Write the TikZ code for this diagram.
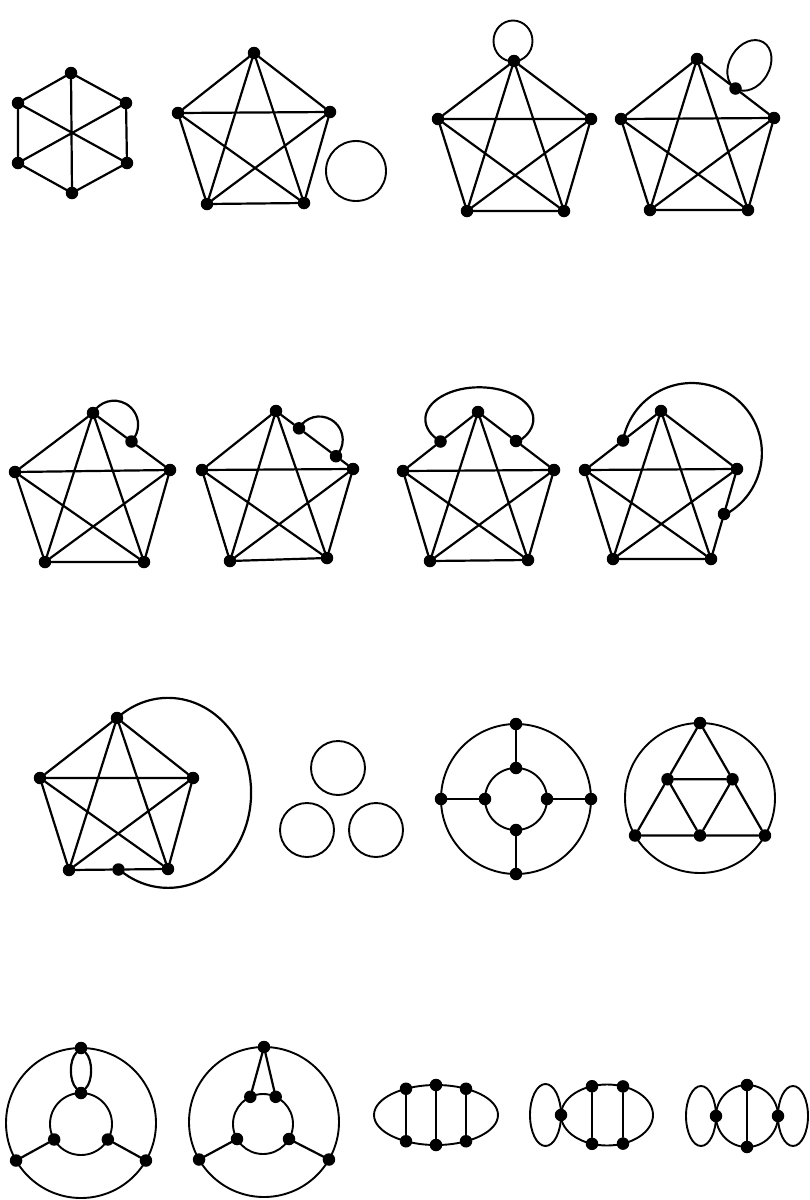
\documentclass[tikz,border=0pt]{standalone}
\begin{document}
\begin{tikzpicture}[x=1pt,y=1pt,
  dot/.style={circle,fill=black,inner sep=0pt,minimum size=12.5pt},
  edge/.style={line width=2.2pt,line cap=round,line join=round},
  ring/.style={line width=1.9pt}]
\useasboundingbox (0,0) rectangle (810,-1200);

% ---------- Graph 1: hexagon (K3,3)
\node[dot] (h1) at (71,-73) {};
\node[dot] (h2) at (18,-103) {};
\node[dot] (h3) at (126,-103) {};
\node[dot] (h4) at (18,-163) {};
\node[dot] (h5) at (127,-163) {};
\node[dot] (h6) at (72,-193) {};
\draw[edge] (h1)--(h2) (h1)--(h3) (h2)--(h4) (h3)--(h5) (h4)--(h6) (h5)--(h6)
  (h1)--(h6) (h2)--(h5) (h3)--(h4);

% ---------- Graph 2: K5 + circle
\node[dot] (a-t) at (254,-53) {};
\node[dot] (a-l) at (178,-113) {};
\node[dot] (a-r) at (330,-112) {};
\node[dot] (a-bl) at (207,-204) {};
\node[dot] (a-br) at (304,-203) {};
\draw[edge] (a-t)--(a-l) (a-t)--(a-r) (a-t)--(a-bl) (a-t)--(a-br) (a-l)--(a-r)
  (a-l)--(a-bl) (a-l)--(a-br) (a-r)--(a-bl) (a-r)--(a-br) (a-bl)--(a-br);
\draw[ring] (356,-171) circle[radius=30];

% ---------- Graph 3: K5 + loop at top
\node[dot] (b-t) at (514,-61) {};
\node[dot] (b-l) at (438,-119) {};
\node[dot] (b-r) at (591,-119) {};
\node[dot] (b-bl) at (467,-211) {};
\node[dot] (b-br) at (564,-211) {};
\draw[edge] (b-t)--(b-l) (b-t)--(b-r) (b-t)--(b-bl) (b-t)--(b-br) (b-l)--(b-r)
  (b-l)--(b-bl) (b-l)--(b-br) (b-r)--(b-bl) (b-r)--(b-br) (b-bl)--(b-br);
\draw[ring] (513,-41) ellipse[x radius=19.5,y radius=20.5];

% ---------- Graph 4: K5, subdivided edge with loop
\node[dot] (c-t) at (697,-59) {};
\node[dot] (c-l) at (621,-119) {};
\node[dot] (c-r) at (774,-118) {};
\node[dot] (c-bl) at (650,-210) {};
\node[dot] (c-br) at (748,-210) {};
\node[dot] (c-s) at (735.5,-88.5) {};
\draw[edge] (c-t)--(c-l) (c-t)--(c-s)--(c-r) (c-t)--(c-bl) (c-t)--(c-br) (c-l)--(c-r)
  (c-l)--(c-bl) (c-l)--(c-br) (c-r)--(c-bl) (c-r)--(c-br) (c-bl)--(c-br);
\begin{scope}[shift={(749.4,-65.4)},rotate=59]
  \draw[ring] (0,0) ellipse[x radius=27,y radius=20];
\end{scope}

% ---------- Graph 5
\node[dot] (d-t) at (93,-413) {};
\node[dot] (d-l) at (15,-472) {};
\node[dot] (d-r) at (170,-470) {};
\node[dot] (d-bl) at (45,-562) {};
\node[dot] (d-br) at (144,-562) {};
\node[dot] (d-s) at (131.5,-441.5) {};
\draw[edge] (d-t)--(d-l) (d-t)--(d-s)--(d-r) (d-t)--(d-bl) (d-t)--(d-br) (d-l)--(d-r)
  (d-l)--(d-bl) (d-l)--(d-br) (d-r)--(d-bl) (d-r)--(d-br) (d-bl)--(d-br);
\draw[edge] (d-t) arc[start angle=150.7,end angle=-43.7,radius=24.1];

% ---------- Graph 6
\node[dot] (e-t) at (276,-411) {};
\node[dot] (e-l) at (202,-470) {};
\node[dot] (e-r) at (353,-469) {};
\node[dot] (e-bl) at (230,-561) {};
\node[dot] (e-br) at (327,-558) {};
\node[dot] (e-s1) at (299,-428.3) {};
\node[dot] (e-s2) at (336,-456.2) {};
\draw[edge] (e-t)--(e-l) (e-t)--(e-s1)--(e-s2)--(e-r) (e-t)--(e-bl) (e-t)--(e-br) (e-l)--(e-r)
  (e-l)--(e-bl) (e-l)--(e-br) (e-r)--(e-bl) (e-r)--(e-br) (e-bl)--(e-br);
\draw[edge] (e-s1) arc[start angle=150.3,end angle=-44.3,radius=23.4];

% ---------- Graph 7
\node[dot] (f-t) at (478,-412) {};
\node[dot] (f-l) at (403,-471) {};
\node[dot] (f-r) at (554,-470) {};
\node[dot] (f-bl) at (430,-561) {};
\node[dot] (f-br) at (528,-560) {};
\node[dot] (f-s1) at (440.5,-441.5) {};
\node[dot] (f-s2) at (516,-441) {};
\draw[edge] (f-t)--(f-s1)--(f-l) (f-t)--(f-s2)--(f-r) (f-t)--(f-bl) (f-t)--(f-br) (f-l)--(f-r)
  (f-l)--(f-bl) (f-l)--(f-br) (f-r)--(f-bl) (f-r)--(f-br) (f-bl)--(f-br);
\draw[edge] (f-s1) arc[start angle=224,end angle=-43,x radius=54,y radius=32];

% ---------- Graph 8
\node[dot] (g-t) at (661,-411) {};
\node[dot] (g-l) at (585,-470) {};
\node[dot] (g-r) at (737,-469) {};
\node[dot] (g-bl) at (613,-559) {};
\node[dot] (g-br) at (711,-559) {};
\node[dot] (g-s1) at (623,-440.5) {};
\node[dot] (g-s2) at (724,-514) {};
\draw[edge] (g-t)--(g-s1)--(g-l) (g-t)--(g-r) (g-t)--(g-bl) (g-t)--(g-br) (g-l)--(g-r)
  (g-l)--(g-bl) (g-l)--(g-br) (g-r)--(g-bl) (g-r)--(g-s2)--(g-br) (g-bl)--(g-br);
\draw[edge] (g-s1) arc[start angle=169.7,end angle=-62.3,radius=70];

% ---------- Graph 9
\node[dot] (k-t) at (117,-718) {};
\node[dot] (k-l) at (40,-778) {};
\node[dot] (k-r) at (193,-778) {};
\node[dot] (k-bl) at (69,-870) {};
\node[dot] (k-br) at (168,-869) {};
\node[dot] (k-s) at (118.5,-869.5) {};
\draw[edge] (k-t)--(k-l) (k-t)--(k-r) (k-t)--(k-bl) (k-t)--(k-br) (k-l)--(k-r)
  (k-l)--(k-bl) (k-l)--(k-br) (k-r)--(k-bl) (k-r)--(k-br) (k-bl)--(k-s)--(k-br);
\draw[edge] (k-t) arc[start angle=128,end angle=-128,x radius=83,y radius=95];

% ---------- Graph 10: three circles
\draw[ring] (338,-768) circle[radius=27];
\draw[ring] (307,-830) circle[radius=27];
\draw[ring] (376,-830) circle[radius=27];

% ---------- Graph 11: two concentric circles with 4 spokes
\draw[ring] (516,-799) circle[radius=75];
\draw[ring] (516,-799) circle[radius=31];
\node[dot] (m-ot) at (516,-724) {};
\node[dot] (m-ol) at (441,-799) {};
\node[dot] (m-or) at (591,-799) {};
\node[dot] (m-ob) at (516,-874) {};
\node[dot] (m-it) at (516,-768) {};
\node[dot] (m-il) at (485,-799) {};
\node[dot] (m-ir) at (547,-799) {};
\node[dot] (m-ib) at (516,-830) {};
\draw[edge] (m-ot)--(m-it) (m-ol)--(m-il) (m-or)--(m-ir) (m-ob)--(m-ib);

% ---------- Graph 12: subdivided triangle in circle
\draw[ring] (700,-798) circle[radius=75];
\node[dot] (n-t) at (700,-723) {};
\node[dot] (n-bl) at (635.05,-835.5) {};
\node[dot] (n-br) at (764.95,-835.5) {};
\node[dot] (n-ml) at (667.5,-779.25) {};
\node[dot] (n-mr) at (732.5,-779.25) {};
\node[dot] (n-mb) at (700,-835.5) {};
\draw[edge] (n-t)--(n-ml)--(n-bl)--(n-mb)--(n-br)--(n-mr)--(n-t)
  (n-ml)--(n-mr)--(n-mb)--(n-ml);

% ---------- Graph 13
\draw[ring] (81,-1123) circle[radius=75];
\draw[ring] (81,-1124) circle[radius=31];
\node[dot] (o-t) at (81,-1048) {};
\node[dot] (o-bl) at (16.05,-1160.5) {};
\node[dot] (o-br) at (145.95,-1160.5) {};
\node[dot] (o-it) at (81,-1093) {};
\node[dot] (o-il) at (54.15,-1139.5) {};
\node[dot] (o-ir) at (107.85,-1139.5) {};
\draw[edge] (o-il)--(o-bl) (o-ir)--(o-br);
\draw[edge] (o-t) .. controls +(-12,-12) and +(-12,12) .. (o-it);
\draw[edge] (o-t) .. controls +(12,-12) and +(12,12) .. (o-it);

% ---------- Graph 14
\draw[ring] (264,-1122) circle[radius=75];
\draw[ring] (263,-1124) circle[radius=30];
\node[dot] (q-t) at (264,-1047) {};
\node[dot] (q-bl) at (199.05,-1159.5) {};
\node[dot] (q-br) at (328.95,-1159.5) {};
\node[dot] (q-i1) at (250.3,-1096.8) {};
\node[dot] (q-i2) at (275.7,-1096.8) {};
\node[dot] (q-il) at (237,-1139) {};
\node[dot] (q-ir) at (289,-1139) {};
\draw[edge] (q-t)--(q-i1) (q-t)--(q-i2) (q-il)--(q-bl) (q-ir)--(q-br);

% ---------- Graph 15
\draw[ring] (436,-1115) ellipse[x radius=62,y radius=30];
\node[dot] (u1) at (406,-1088.75) {};
\node[dot] (u2) at (436,-1085) {};
\node[dot] (u3) at (466,-1088.75) {};
\node[dot] (u4) at (406,-1141.25) {};
\node[dot] (u5) at (436,-1145) {};
\node[dot] (u6) at (466,-1141.25) {};
\draw[edge] (u1)--(u4) (u2)--(u5) (u3)--(u6);

% ---------- Graph 16
\draw[ring] (607,-1115) ellipse[x radius=46,y radius=30.5];
\draw[ring] (545.5,-1115) ellipse[x radius=15.5,y radius=31];
\node[dot] (v-l) at (561,-1115) {};
\node[dot] (v1) at (592,-1086.2) {};
\node[dot] (v2) at (623,-1086.4) {};
\node[dot] (v3) at (592,-1143.8) {};
\node[dot] (v4) at (623,-1143.6) {};
\draw[edge] (v1)--(v3) (v2)--(v4);

% ---------- Graph 17
\draw[ring] (747,-1116) circle[radius=31];
\draw[ring] (701,-1116) ellipse[x radius=15,y radius=30];
\draw[ring] (793,-1116) ellipse[x radius=15,y radius=30];
\node[dot] (w1) at (747,-1085) {};
\node[dot] (w2) at (747,-1147) {};
\node[dot] (w3) at (716,-1116) {};
\node[dot] (w4) at (778,-1116) {};
\draw[edge] (w1)--(w2);
\end{tikzpicture}
\end{document}
